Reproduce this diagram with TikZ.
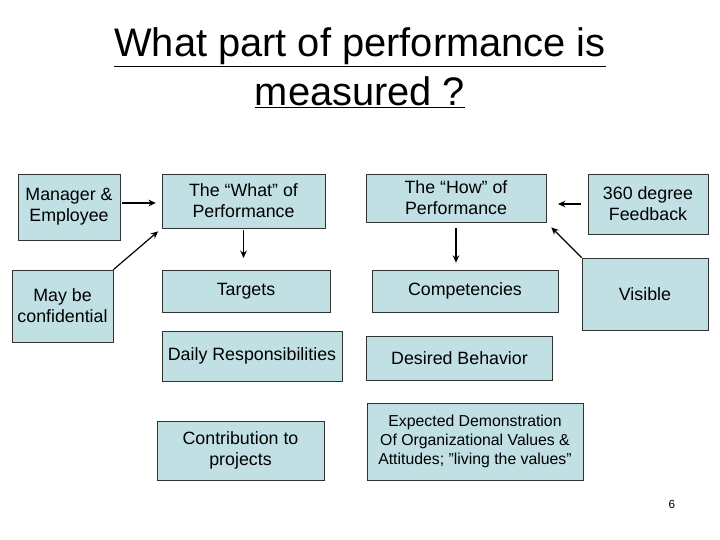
\documentclass[tikz,border=0pt]{standalone}
\usepackage{fontspec}
\setmainfont{Liberation Sans}
\usetikzlibrary{arrows.meta}
\definecolor{Pbox}{RGB}{192,224,228}
\tikzset{
  pbox/.style={draw=black!80, fill=Pbox, line width=0.6pt, align=center,
    inner sep=1pt, font=\fontsize{15.2}{18}\selectfont},
  parrow/.style={-{Stealth[length=2.2mm,width=2mm]}, line width=1pt}
}
\begin{document}
\begin{tikzpicture}[x=0.03cm,y=-0.03cm]
  \useasboundingbox (0,0) rectangle (720,540);

  % title
  \node[align=center, font=\fontsize{34}{42}\selectfont] (title) at (360,68)
    {\underline{What part of performance is}\\\underline{measured ?}};

  % left column
  \node[pbox, minimum width=3.06cm, minimum height=1.98cm] (mgr) at (69,207) {Manager \&\\Employee};
  \node[pbox, minimum width=3.03cm, minimum height=2.16cm] (conf) at (62.5,306) {May be\\confidential};

  % the "what"
  \node[pbox, minimum width=4.89cm, minimum height=1.62cm] (what) at (243.5,201) {The “What” of\\Performance};
  \node[pbox, minimum width=5.04cm, minimum height=1.26cm] (targets) at (246,291) {Targets};
  \node[pbox, minimum width=5.40cm, minimum height=1.50cm] (daily) at (252,356) {Daily Responsibilities};
  \node[pbox, minimum width=5.01cm, minimum height=1.77cm] (contrib) at (240.5,450.5) {Contribution to\\projects};

  % the "how"
  \node[pbox, minimum width=5.40cm, minimum height=1.44cm] (how) at (456,198) {The “How” of\\Performance};
  \node[pbox, minimum width=5.58cm, minimum height=1.26cm] (comp) at (465,291) {Competencies};
  \node[pbox, minimum width=5.58cm, minimum height=1.32cm] (desired) at (459.5,358) {Desired Behavior};
  \node[pbox, minimum width=6.48cm, minimum height=2.31cm, font=\fontsize{13.5}{16.5}\selectfont] (expected) at (475,441.5)
    {Expected Demonstration\\Of Organizational Values \&\\Attitudes; \symbol{34}living the values\symbol{34}};

  % right column
  \node[pbox, minimum width=3.60cm, minimum height=1.80cm] (feedback) at (648,204) {360 degree\\Feedback};
  \node[pbox, minimum width=3.78cm, minimum height=2.16cm] (visible) at (645,294) {Visible};

  % connectors
  \draw[parrow, shorten <=1pt, shorten >=5pt] (mgr.east |- 0,203) -- (what.west |- 0,203);
  \draw[parrow, shorten >=4pt] (conf.north east) -- (what.south west);
  \draw[parrow, shorten <=1pt, shorten >=10pt] (what.south) -- (targets.north -| what.south);
  \draw[parrow, shorten <=5pt, shorten >=6pt] (how.south) -- (comp.north -| how.south);
  \draw[parrow, shorten <=6pt, shorten >=10pt] (feedback.west) -- (how.east |- feedback.west);
  \draw[parrow, shorten >=6pt] (visible.north west) -- (how.south east);

  % page number
  \node[font=\fontsize{10}{12}\selectfont] (pnum) at (672,504) {6};
\end{tikzpicture}
\end{document}
